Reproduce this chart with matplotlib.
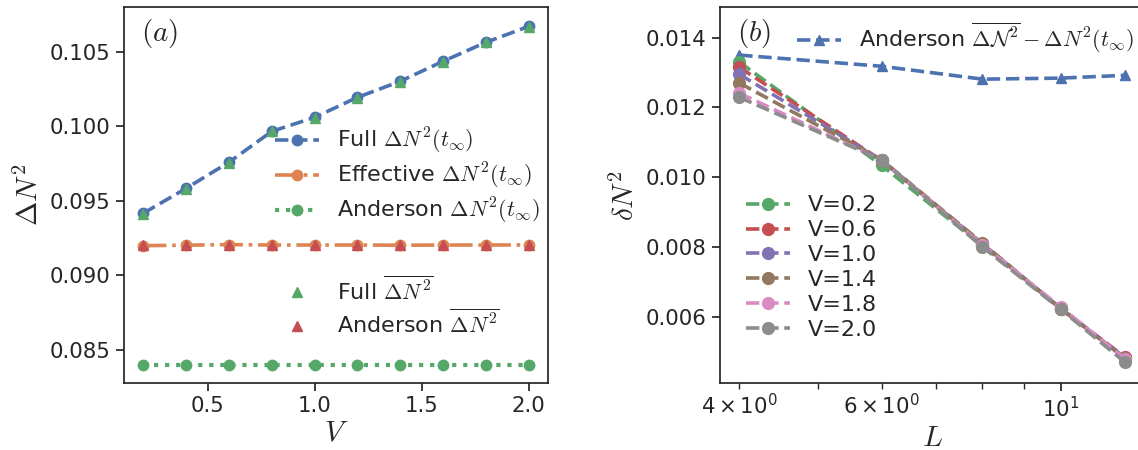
import matplotlib
matplotlib.use("Agg")
import matplotlib.pyplot as plt

# ---------------- data ----------------
V = [0.2, 0.4, 0.6, 0.8, 1.0, 1.2, 1.4, 1.6, 1.8, 2.0]
full_dN2 = [0.09417, 0.09584, 0.09759, 0.09966, 0.1006, 0.10194, 0.10302, 0.10436, 0.10563, 0.1067]
effective_dN2 = [0.0920, 0.09203, 0.09207, 0.09204, 0.09204, 0.09204, 0.09203, 0.09204, 0.09204, 0.09205]
anderson_dN2 = [0.0840] * 10
full_avg = [0.09415, 0.09582, 0.09757, 0.09967, 0.10058, 0.10193, 0.10300, 0.10434, 0.10562, 0.10668]
anderson_avg = [0.09203, 0.09204, 0.09206, 0.09204, 0.09204, 0.09204, 0.09204, 0.09204, 0.09204, 0.09205]

L = [4, 6, 8, 10, 12]
anderson_diff = [0.01350, 0.01318, 0.01281, 0.01284, 0.01292]
V_labels = ["V=0.2", "V=0.6", "V=1.0", "V=1.4", "V=1.8", "V=2.0"]
deltaN2 = [
    [0.01330, 0.01034, 0.00803, 0.00622, 0.00482],
    [0.01315, 0.01048, 0.00808, 0.00623, 0.00485],
    [0.01295, 0.01049, 0.00809, 0.00624, 0.00483],
    [0.01270, 0.01050, 0.00811, 0.00623, 0.00481],
    [0.01241, 0.01049, 0.00805, 0.00628, 0.00479],
    [0.01229, 0.01050, 0.00800, 0.00621, 0.00470],
]

# ---------------- style ----------------
blue, orange, green, red, purple, brown, pink, gray = (
    "#4C72B0", "#DD8452", "#55A868", "#C44E52", "#8172B3", "#937860", "#DA8BC3", "#8C8C8C")
v_colors = [green, red, purple, brown, pink, gray]

dark = "#262626"
plt.rcParams.update({
    "font.family": ["DejaVu Sans"],
    "mathtext.fontset": "cm",
    "text.color": dark,
    "axes.labelcolor": dark,
    "axes.edgecolor": dark,
    "axes.linewidth": 1.25,
    "xtick.color": dark,
    "ytick.color": dark,
    "xtick.direction": "out",
    "ytick.direction": "out",
    "xtick.major.size": 6,
    "ytick.major.size": 6,
    "xtick.minor.size": 4,
    "ytick.minor.size": 4,
    "xtick.major.width": 1.25,
    "ytick.major.width": 1.25,
    "xtick.minor.width": 1.0,
    "xtick.labelsize": 15.3,
    "ytick.labelsize": 15.3,
    "axes.labelsize": 21,
    "legend.fontsize": 16,
    "legend.frameon": False,
})

fig = plt.figure(figsize=(11.38, 4.5), dpi=100)
H = 450.0
W = 1138.0
bot = 1 - 383 / H
top = 1 - 7.3 / H
ax1 = fig.add_axes([124 / W, bot, (548 - 124) / W, top - bot])
ax2 = fig.add_axes([720 / W, bot, (1144 - 720) / W, top - bot])

lw = 2.6
ms = 7.5

# ---------------- panel (a) ----------------
l1, = ax1.plot(V, full_dN2, "--", marker="o", color=blue, lw=lw, ms=ms, label=r"Full $\Delta N^2(t_\infty)$")
l2, = ax1.plot(V, effective_dN2, "-.", marker="o", color=orange, lw=lw, ms=ms, label=r"Effective $\Delta N^2(t_\infty)$")
l3, = ax1.plot(V, anderson_dN2, ":", marker="o", color=green, lw=lw + 0.4, ms=ms, label=r"Anderson $\Delta N^2(t_\infty)$")
t1, = ax1.plot(V, full_avg, ls="none", marker="^", color=green, ms=ms, label=r"Full $\overline{\Delta N^2}$")
t2, = ax1.plot(V, anderson_avg, ls="none", marker="^", color=red, ms=ms, label=r"Anderson $\overline{\Delta N^2}$")

ax1.set_ylim(0.08279, 0.10798)
ax1.set_yticks([0.085, 0.090, 0.095, 0.100, 0.105])
ax1.set_xticks([0.5, 1.0, 1.5, 2.0])
ax1.set_xlabel(r"$V$", labelpad=2)
ax1.set_ylabel(r"$\Delta N^2$")
ax1.text(0.04, 0.93, r"$(a)$", transform=ax1.transAxes, fontsize=21, va="center", ha="left")

leg1 = ax1.legend(handles=[l1, l2, l3], loc="center left", bbox_to_anchor=(0.335, 0.551),
                  borderaxespad=0, handlelength=2.0, labelspacing=0.22, handletextpad=0.8)
ax1.add_artist(leg1)
ax1.legend(handles=[t1, t2], loc="center left", bbox_to_anchor=(0.335, 0.204),
           borderaxespad=0, handlelength=2.0, labelspacing=0.22, handletextpad=0.8)

# ---------------- panel (b) ----------------
la, = ax2.plot(L, anderson_diff, "--", marker="^", color=blue, lw=lw, ms=ms,
               label=r"Anderson $\overline{\Delta \mathcal{N}^2}-\Delta N^2(t_\infty)$")
vlines = []
for lab, col, vals in zip(V_labels, v_colors, deltaN2):
    h, = ax2.plot(L, vals, "--", marker="o", color=col, lw=lw, ms=ms + 1, label=lab)
    vlines.append(h)

ax2.set_xscale("log")
ax2.set_ylim(0.0041, 0.01487)
ax2.set_yticks([0.006, 0.008, 0.010, 0.012, 0.014])
ax2.set_xlabel(r"$L$", labelpad=2)
ax2.set_ylabel(r"$\delta N^2$")
ax2.text(0.04, 0.93, r"$(b)$", transform=ax2.transAxes, fontsize=21, va="center", ha="left")

legA = ax2.legend(handles=[la], loc="center left", bbox_to_anchor=(0.16, 0.918),
                  borderaxespad=0, handlelength=2.0, handletextpad=0.8)
ax2.add_artist(legA)
ax2.legend(handles=vlines, loc="center left", bbox_to_anchor=(0.04, 0.307),
           borderaxespad=0, handlelength=2.0, labelspacing=0.22, handletextpad=0.8)

fig.savefig("out.png", dpi=100)
